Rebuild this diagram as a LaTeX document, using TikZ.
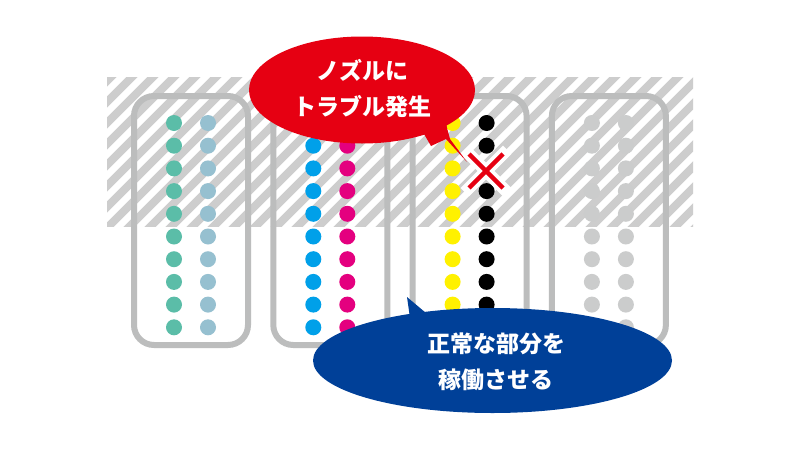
\documentclass[tikz,border=0pt]{standalone}
\usepackage{fontspec}
\newfontfamily\cjk{Noto Sans CJK JP}
\usetikzlibrary{shapes.geometric}
\definecolor{hatchgray}{RGB}{205,205,205}
\definecolor{boxgray}{RGB}{188,189,189}
\definecolor{dotgray}{RGB}{203,204,204}
\definecolor{tealc}{RGB}{91,189,168}
\definecolor{lblue}{RGB}{150,192,208}
\definecolor{cyanc}{RGB}{0,160,233}
\definecolor{magc}{RGB}{228,0,127}
\definecolor{yelc}{RGB}{255,241,0}
\definecolor{blkc}{RGB}{0,0,0}
\definecolor{redc}{RGB}{230,0,18}
\definecolor{bluec}{RGB}{0,64,152}
\tikzset{
  stripe/.style={hatchgray, line width=8pt},
  headbox/.style={boxgray, line width=6pt, rounded corners=20pt},
  redbubble/.style={fill=redc, draw=none},
  bluebubble/.style={fill=bluec, draw=none},
  bubbletext/.style={text=white, align=center, inner sep=0pt, font=\cjk\bfseries\fontsize{23}{36}\selectfont},
}
\begin{document}
\begin{tikzpicture}[x=1pt,y=-1pt]
\useasboundingbox (0,0) rectangle (800,450);
\fill[white] (0,0) rectangle (800,450);
% hatched band
\begin{scope}
  \clip (107,77) rectangle (693,226);
  \foreach \k in {0,...,40} {
    \pgfmathsetmacro\c{167+21*\k}
    \draw[stripe] (\c,0) -- ({\c-300},300);
  }
\end{scope}
% print heads
\foreach \i/\ca/\cb in {0/tealc/lblue, 1/cyanc/magc, 2/yelc/blkc, 3/dotgray/dotgray} {
  \pgfmathsetmacro\L{134+139.3*\i}
  \draw[headbox] (\L,96) rectangle ({\L+114},345);
  \foreach \j in {0,...,9} {
    \pgfmathsetmacro\Y{123+22.7*\j}
    \fill[\ca] ({\L+40},\Y) circle[radius=8pt];
    \ifnum\i=2 \ifnum\j=2 \else
      \fill[\cb] ({\L+74},\Y) circle[radius=8pt];
    \fi \else
      \fill[\cb] ({\L+74},\Y) circle[radius=8pt];
    \fi
  }
}
% failure mark
\coordinate (xc) at (486,171);
\draw[white, line width=12pt, line cap=rect] (469,154) -- (503,188) (503,154) -- (469,188);
\draw[redc, line width=4.5pt] (469,154) -- (503,188) (503,154) -- (469,188);
% red bubble
\fill[redbubble] (424,134) -- (431,146) -- (446,139) -- (467,162) -- (450,139) -- (447,128) -- (446,122) -- cycle;
\node[ellipse, redbubble, minimum width=226pt, minimum height=107pt, inner sep=0pt] (redb) at (362,90) {};
\node[bubbletext] (redt) at (362,89) {ノズルに\\トラブル発生};
% blue bubble
\fill[bluebubble] (407,297) -- (410,318) -- (426,313) -- cycle;
\node[ellipse, bluebubble, minimum width=359pt, minimum height=105pt, inner sep=0pt] (blueb) at (492.5,360.5) {};
\node[bubbletext] (bluet) at (496,362) {正常な部分を\\稼働させる};
\end{tikzpicture}
\end{document}
